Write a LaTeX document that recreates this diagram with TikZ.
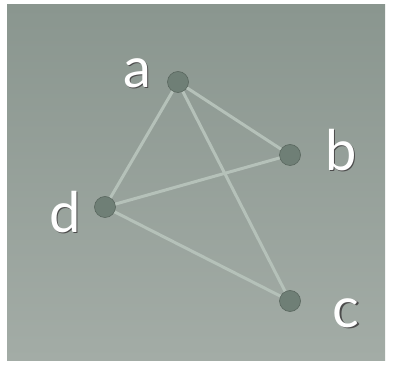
\documentclass[tikz,border=0pt]{standalone}
\usepackage{fontspec}
\setmainfont{Lato}
\begin{document}
\begin{tikzpicture}[x=1pt,y=1pt,
  vert/.style={circle,fill=vfill,draw=vfill!80!black,line width=0.6pt,minimum size=21pt,inner sep=0pt},
  edge/.style={draw=edgec,line width=3pt},
  lab/.style={text=white,font=\fontsize{56}{56}\selectfont,inner sep=0pt},
  labshadow/.style={lab,text=black!70}]
\definecolor{vfill}{HTML}{6F7F76}
\definecolor{edgec}{HTML}{B5C1B9}
\definecolor{bgtop}{HTML}{8A968F}
\definecolor{bgbot}{HTML}{A3ACA6}
\useasboundingbox (0,0) rectangle (393,369);
\fill[white] (0,0) rectangle (393,369);
\shade[top color=bgtop,bottom color=bgbot] (7,9) rectangle (385,364);
\node[vert] (a) at (178,287) {};
\node[vert] (b) at (290,214) {};
\node[vert] (d) at (105,162) {};
\node[vert] (c) at (290,68) {};
\draw[edge] (a) -- (b);
\draw[edge] (a) -- (d);
\draw[edge] (a) -- (c);
\draw[edge] (d) -- (b);
\draw[edge] (d) -- (c);
\node[labshadow] (sa) at (138.5,294.5) {a};
\node[labshadow] (sb) at (342.5,217.5) {b};
\node[labshadow] (sd) at (66.5,155.5) {d};
\node[labshadow] (sc) at (347.5,54.5) {c};
\node[lab] (la) at (137,296) {a};
\node[lab] (lb) at (341,219) {b};
\node[lab] (ld) at (65,157) {d};
\node[lab] (lc) at (346,56) {c};
\end{tikzpicture}
\end{document}
